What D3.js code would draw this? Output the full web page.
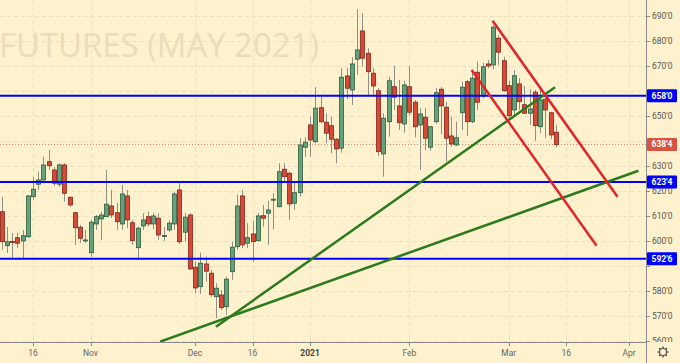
<!DOCTYPE html>
<html>
<head>
<meta charset="utf-8">
<script src="https://cdn.jsdelivr.net/npm/d3@7"></script>
<style>
body { margin: 0; background: #fdf2cd; }
svg { display: block; font-family: Roboto, "DejaVu Sans", sans-serif; }
</style>
</head>
<body>
<div id="chart"></div>
<script>
// daily bars, bar 0 = Oct 16 2020 (trading days)
var startBar = -6;
var opens = [611.6,598.0,599.7,601.2,599.9,601.6,617.6,622.6,624.3,631.6,628.3,622.6,630.3,617.4,611.2,605.4,600.1,595.2,606.7,608.7,
  609.6,613.9,611.2,606.7,617.9,607.2,597.2,605.9,609.6,606.7,609.0,602.0,604.3,606.7,620.3,603.4,610.3,589.4,581.6,590.7,
  587.0,577.6,578.3,573.6,587.6,597.6,617.9,599.0,602.7,600.0,610.0,611.0,616.5,613.6,628.6,627.0,615.0,619.2,637.4,646.3,
  639.6,653.2,647.4,646.0,640.6,637.0,665.9,660.3,672.6,683.9,675.0,667.0,660.0,634.7,647.6,661.6,653.9,646.7,661.6,655.4,
  646.3,649.4,637.4,647.6,660.6,653.4,641.9,638.3,651.2,663.6,647.6,667.4,657.9,670.7,670.3,681.0,672.0,662.0,652.3,662.7,
  654.4,651.0,659.4,645.6,656.6,651.2,643.4];
var highs = [617.6,605.5,603.1,603.1,604.3,618.3,625.5,627.6,633.6,636.3,629.5,631.0,631.0,617.5,611.6,606.3,604.3,608.3,610.3,611.6,
  628.3,620.3,615.1,622.3,620.3,608.3,605.6,611.0,611.6,611.0,611.0,605.5,608.3,619.6,623.0,611.0,611.0,591.6,595.2,593.6,
  588.3,583.0,580.3,585.6,599.6,618.3,620.3,607.0,608.0,611.1,614.3,616.0,619.0,631.0,631.0,627.5,623.2,641.0,641.4,649.6,
  661.4,657.6,651.0,649.6,641.0,669.0,669.0,673.4,692.6,691.0,677.0,669.0,661.0,651.0,665.6,669.9,664.3,664.0,669.9,656.3,
  653.0,653.0,645.9,661.0,661.4,655.6,649.6,647.6,663.6,664.3,668.3,671.6,671.2,672.3,686.3,682.3,673.6,664.0,668.3,665.0,
  661.9,660.6,660.3,660.3,658.3,651.6,646.3];
var lows = [596.3,595.1,593.1,597.1,593.1,601.1,616.3,620.3,623.0,628.3,621.9,621.5,615.6,613.5,598.3,599.1,599.1,593.6,604.3,600.3,
  609.5,609.1,604.3,604.3,605.0,598.3,592.3,604.3,605.6,604.6,600.3,599.9,603.6,604.3,598.7,599.6,588.3,579.0,578.7,583.6,
  577.5,569.0,572.3,570.3,584.3,596.3,597.0,597.0,591.6,599.6,605.6,598.3,604.6,613.4,623.6,608.3,612.3,617.6,633.6,633.6,
  639.0,647.0,639.0,635.0,631.0,635.2,656.6,654.3,666.3,669.6,657.9,658.3,633.9,625.6,641.6,652.3,644.3,643.2,650.3,641.4,
  628.3,636.3,636.0,646.7,642.7,631.6,637.6,637.9,644.3,641.9,647.0,652.3,657.0,669.0,668.6,670.3,659.6,648.3,649.9,652.3,
  650.7,646.3,640.0,643.0,641.0,640.6,637.4];
var closes = [599.6,599.6,599.5,599.0,602.0,617.9,620.6,624.3,630.3,630.0,623.0,630.3,619.0,614.3,605.2,601.0,600.3,607.4,609.6,610.3,
  614.6,610.3,607.6,618.7,608.3,600.0,605.0,608.3,606.7,609.9,602.3,602.1,607.0,618.7,599.6,609.4,588.7,581.1,591.0,587.8,
  578.4,581.0,573.2,584.6,597.4,613.9,598.3,601.2,599.6,609.9,609.0,612.3,616.6,627.6,625.6,614.7,619.2,638.3,639.4,640.3,
  653.0,647.6,643.0,640.6,636.7,665.4,661.0,670.7,676.3,673.0,667.6,661.9,635.6,649.0,664.0,657.4,647.2,662.3,651.4,645.6,
  650.7,641.0,645.6,659.2,653.9,641.0,638.7,641.2,661.4,647.6,665.0,655.4,669.6,669.9,685.4,675.4,660.0,650.0,666.0,655.6,
  651.0,652.7,646.0,656.3,652.3,642.3,638.5];

var tickLabels = ["16", "Nov", "Dec", "16", "2021", "Feb", "Mar", "16", "Apr"];
var tickBars = [0, 11, 31, 42, 53, 72, 91, 102, 114];
var priceTicks = d3.range(560, 700, 10);

var levels = [658, 623.5, 592.75];
var lastPrice = 638.5;

// drawn trend lines: [bar, price] pairs
var greenLines = [[[35.0, 565.6], [99.85, 661.4]], [[24.3, 559.6], [115.8, 628.0]]];
var redLines = [[[87.9, 688.0], [111.8, 617.6]], [[83.9, 668.3], [107.8, 598.0]]];

var width = 680, height = 363,
    plotRight = 646, plotBottom = 342;

function fmt(p) {
  var whole = Math.floor(p);
  return whole + "'" + Math.round((p - whole) * 8);
}

var x = d3.scaleLinear().domain([0, 114]).range([33, 629]);
var y = d3.scaleLinear().domain([560, 690]).range([340.7, 15.7]);

var svg = d3.select("#chart").append("svg")
  .attr("width", width).attr("height", height);

svg.append("rect").attr("width", width).attr("height", height).attr("fill", "#fdf2cd");

svg.append("clipPath").attr("id", "plot")
  .append("rect").attr("width", plotRight).attr("height", plotBottom);
svg.append("clipPath").attr("id", "raxis")
  .append("rect").attr("x", plotRight).attr("width", width - plotRight).attr("height", plotBottom);

var plot = svg.append("g").attr("clip-path", "url(#plot)");

// grid
plot.selectAll(".hgrid").data(priceTicks).enter().append("line")
  .attr("x1", 0).attr("x2", plotRight)
  .attr("y1", function (d) { return Math.round(y(d)) + 0.5; })
  .attr("y2", function (d) { return Math.round(y(d)) + 0.5; })
  .attr("stroke", "#eadfc0").attr("stroke-dasharray", "4,3");
plot.selectAll(".vgrid").data(tickBars).enter().append("line")
  .attr("x1", function (d) { return Math.round(x(d)) + 0.5; })
  .attr("x2", function (d) { return Math.round(x(d)) + 0.5; })
  .attr("y1", 0).attr("y2", plotBottom)
  .attr("stroke", "#eadfc0").attr("stroke-dasharray", "4,3");

// watermark
plot.append("text")
  .attr("x", -1).attr("y", 57)
  .attr("font-family", "'Open Sans', sans-serif")
  .attr("font-size", 33)
  .attr("textLength", 320).attr("lengthAdjust", "spacingAndGlyphs")
  .attr("fill", "#e9ddba")
  .text("FUTURES (MAY 2021)");

// last price dotted line
plot.append("line")
  .attr("x1", 0).attr("x2", plotRight)
  .attr("y1", y(lastPrice)).attr("y2", y(lastPrice))
  .attr("stroke", "#e07a60").attr("stroke-dasharray", "1,2");

// candles
var bars = opens.map(function (o, i) {
  return { bar: startBar + i, o: o, h: highs[i], l: lows[i], c: closes[i] };
});

var candle = plot.selectAll(".candle").data(bars).enter().append("g");
candle.append("line")
  .attr("x1", function (d) { return Math.round(x(d.bar)) + 0.5; })
  .attr("x2", function (d) { return Math.round(x(d.bar)) + 0.5; })
  .attr("y1", function (d) { return y(d.h); })
  .attr("y2", function (d) { return y(d.l); })
  .attr("stroke", "#8f8f85").attr("stroke-width", 1);
candle.append("rect")
  .attr("x", function (d) { return Math.round(x(d.bar)) - 1.5; })
  .attr("width", 4)
  .attr("y", function (d) { return y(Math.max(d.o, d.c)); })
  .attr("height", function (d) { return Math.max(1, Math.abs(y(d.o) - y(d.c))); })
  .attr("fill", function (d) { return d.c >= d.o ? "#64a27c" : "#d84a38"; })
  .attr("stroke", function (d) { return d.c >= d.o ? "#2d5b3c" : "#86221a"; })
  .attr("stroke-width", 0.8);

// horizontal levels
plot.selectAll(".level").data(levels).enter().append("line")
  .attr("x1", 0).attr("x2", plotRight)
  .attr("y1", function (d) { return y(d); })
  .attr("y2", function (d) { return y(d); })
  .attr("stroke", "#0000ff").attr("stroke-width", 2);

// trend lines
var line = d3.line().x(function (d) { return x(d[0]); }).y(function (d) { return y(d[1]); });
plot.selectAll(".gline").data(greenLines).enter().append("path")
  .attr("d", line).attr("stroke", "#2b7a1c").attr("stroke-width", 2.5).attr("fill", "none");
plot.selectAll(".rline").data(redLines).enter().append("path")
  .attr("d", line).attr("stroke", "#e0262a").attr("stroke-width", 2.5).attr("fill", "none");

// axes lines
svg.append("line").attr("x1", plotRight + 0.5).attr("x2", plotRight + 0.5)
  .attr("y1", 0).attr("y2", height).attr("stroke", "#8a8a8a");
svg.append("line").attr("x1", 0).attr("x2", plotRight)
  .attr("y1", plotBottom + 0.5).attr("y2", plotBottom + 0.5).attr("stroke", "#8a8a8a");

// price axis; labels mostly hidden behind a price box are left out
var boxes = levels.concat([lastPrice]);
var raxis = svg.append("g").attr("clip-path", "url(#raxis)");
priceTicks.forEach(function (p) {
  raxis.append("line")
    .attr("x1", plotRight).attr("x2", plotRight + 4)
    .attr("y1", Math.round(y(p)) + 0.5).attr("y2", Math.round(y(p)) + 0.5)
    .attr("stroke", "#8a8a8a");
  var covered = boxes.some(function (b) { return Math.abs(y(b) - y(p)) < 8.5; });
  if (covered) return;
  raxis.append("text")
    .attr("x", plotRight + 6).attr("y", y(p)).attr("dy", "0.35em")
    .attr("font-size", 8.5).attr("fill", "#555")
    .text(fmt(p));
});

function priceBox(p, col) {
  svg.append("rect")
    .attr("x", plotRight + 1).attr("y", y(p) - 6.5)
    .attr("width", 30).attr("height", 13).attr("rx", 1)
    .attr("fill", col);
  svg.append("text")
    .attr("x", plotRight + 5.5).attr("y", y(p)).attr("dy", "0.35em")
    .attr("font-size", 8.5).attr("font-weight", "bold").attr("fill", "#fff")
    .text(fmt(p));
}
levels.forEach(function (p) { priceBox(p, "#0000ff"); });
priceBox(lastPrice, "#d9533e");

// time axis
tickBars.forEach(function (b, i) {
  svg.append("line")
    .attr("x1", Math.round(x(b)) + 0.5).attr("x2", Math.round(x(b)) + 0.5)
    .attr("y1", plotBottom).attr("y2", plotBottom + 4)
    .attr("stroke", "#8a8a8a");
  svg.append("text")
    .attr("x", x(b)).attr("y", 353).attr("dy", "0.35em")
    .attr("text-anchor", "middle")
    .attr("font-size", 8.5)
    .attr("font-weight", tickLabels[i] === "2021" ? "bold" : "normal")
    .attr("fill", tickLabels[i] === "2021" ? "#444" : "#666")
    .text(tickLabels[i]);
});

// settings gear
var gear = svg.append("g").attr("transform", "translate(663,352)");
gear.append("circle").attr("r", 3.5).attr("fill", "none").attr("stroke", "#555").attr("stroke-width", 1.2);
d3.range(8).forEach(function (k) {
  var a = k * Math.PI / 4;
  gear.append("line")
    .attr("x1", Math.cos(a) * 3.5).attr("y1", Math.sin(a) * 3.5)
    .attr("x2", Math.cos(a) * 5.5).attr("y2", Math.sin(a) * 5.5)
    .attr("stroke", "#555").attr("stroke-width", 1.4);
});
</script>
</body>
</html>
